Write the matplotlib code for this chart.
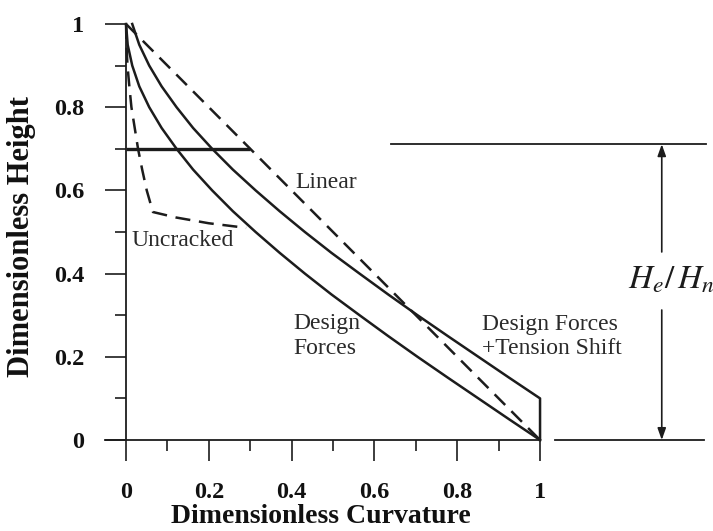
import matplotlib
matplotlib.use("Agg")
import matplotlib.pyplot as plt
from matplotlib.ticker import FixedLocator

plt.rcParams['font.family'] = ['Liberation Serif', 'DejaVu Serif']
plt.rcParams['mathtext.fontset'] = 'stix'

# ---- data ----
heights = [1.00, 0.95, 0.90, 0.85, 0.80, 0.75, 0.70, 0.65, 0.60, 0.55, 0.50,
           0.45, 0.40, 0.35, 0.30, 0.25, 0.20, 0.15, 0.10, 0.05, 0.00]
design_curv = [0.000, 0.004, 0.015, 0.032, 0.056, 0.086, 0.122, 0.162, 0.208, 0.258, 0.313,
               0.371, 0.432, 0.496, 0.564, 0.633, 0.704, 0.777, 0.851, 0.925, 1.000]
shift_heights = [1.00, 0.95, 0.90, 0.85, 0.80, 0.75, 0.70, 0.65, 0.60, 0.55, 0.50,
                 0.45, 0.40, 0.35, 0.30, 0.25, 0.20, 0.15, 0.10, 0.00]
shift_curv = [0.015, 0.032, 0.056, 0.086, 0.122, 0.162, 0.208, 0.258, 0.313, 0.371, 0.432,
              0.496, 0.564, 0.633, 0.704, 0.777, 0.851, 0.925, 1.000, 1.000]
linear_curv = [0.0, 1.0]
linear_heights = [1.0, 0.0]
uncracked_curv = [0.000, 0.001, 0.0035, 0.008, 0.013, 0.021, 0.029, 0.039, 0.050, 0.065,
                  0.120, 0.200, 0.290]
uncracked_heights = [1.00, 0.95, 0.90, 0.85, 0.80, 0.75, 0.70, 0.65, 0.60, 0.548,
                     0.535, 0.521, 0.510]
he_level = 0.70          # horizontal line inside the plot
he_curv = [0.0, 0.30]
ref_top = 0.711          # right-hand H_e/H_n dimension lines
xticks = [0, 0.2, 0.4, 0.6, 0.8, 1]
xticklabels = ['0', '0.2', '0.4', '0.6', '0.8', '1']
xminor = [0.1, 0.3, 0.5, 0.7, 0.9]
yticks = [0, 0.2, 0.4, 0.6, 0.8, 1]
yticklabels = ['0', '0.2', '0.4', '0.6', '0.8', '1']
yminor = [0.1, 0.3, 0.5, 0.7, 0.9]

ink = '#1c1c1c'

fig = plt.figure(figsize=(7.13, 5.31), dpi=100)
ax = fig.add_axes([0.1187, 0.1557, 0.8826, 0.8383])
ax.set_xlim(-0.1, 1.42)
ax.set_ylim(-0.02, 1.05)

lw = 1.8
ax.plot(design_curv, heights, color=ink, lw=lw)
ax.plot(shift_curv, shift_heights, color=ink, lw=lw)
ax.plot(linear_curv, linear_heights, color=ink, lw=lw, dashes=(6, 3.5))
ax.plot(uncracked_curv, uncracked_heights, color=ink, lw=lw, dashes=(6, 3.5))
ax.plot(he_curv, [he_level, he_level], color=ink, lw=2.4, solid_capstyle='butt')

# right-side dimension
ax.plot([0.64, 1.40], [ref_top, ref_top], color=ink, lw=1.3, clip_on=False)
ax.plot([1.036, 1.395], [0, 0], color=ink, lw=1.3, clip_on=False)
ax.annotate('', xy=(1.294, ref_top), xytext=(1.294, 0.452),
            arrowprops=dict(arrowstyle='-|>,head_length=0.7,head_width=0.25', color=ink, lw=1.2,
                            shrinkA=0, shrinkB=0))
ax.annotate('', xy=(1.294, 0.0), xytext=(1.294, 0.3125),
            arrowprops=dict(arrowstyle='-|>,head_length=0.7,head_width=0.25', color=ink, lw=1.2,
                            shrinkA=0, shrinkB=0))
ax.text(1.316, 0.383, r'$H_e/\,H_n$', fontsize=24, ha='center', va='center', color=ink)

# annotations
tfs = 17
tcol = '#2a2a2a'
ax.text(0.408, 0.62, 'Linear', fontsize=tfs, ha='left', va='center', color=tcol)
ax.text(0.012, 0.48, 'Uncracked', fontsize=tfs, ha='left', va='center', color=tcol)
ax.text(0.403, 0.25, 'Design\nForces', fontsize=tfs, ha='left', va='center',
        color=tcol, linespacing=1.2)
ax.text(0.86, 0.248, 'Design Forces\n+Tension Shift', fontsize=tfs, ha='left', va='center',
        color=tcol, linespacing=1.2)

# axes styling
for s in ['top', 'right']:
    ax.spines[s].set_visible(False)
ax.spines['left'].set_bounds(0, 1)
ax.spines['bottom'].set_bounds(-0.05, 1)
for s in ['left', 'bottom']:
    ax.spines[s].set_position(('data', 0))
    ax.spines[s].set_linewidth(1.3)
    ax.spines[s].set_color(ink)

ax.set_xticks(xticks)
ax.set_xticklabels(xticklabels)
ax.set_yticks(yticks)
ax.set_yticklabels(yticklabels)
ax.xaxis.set_minor_locator(FixedLocator(xminor))
ax.yaxis.set_minor_locator(FixedLocator(yminor))
ax.tick_params(which='major', direction='out', length=15, width=1.2, color=ink,
               labelsize=17.5, labelcolor='#111111')
ax.tick_params(which='minor', direction='out', length=8, width=1.2, color=ink)
ax.tick_params(axis='x', which='major', pad=15)
ax.tick_params(axis='y', which='major', pad=15)
for lab in ax.get_xticklabels() + ax.get_yticklabels():
    lab.set_fontweight('bold')

ax.text(0.47, -0.185, 'Dimensionless Curvature', fontsize=20, fontweight='bold',
        ha='center', va='center', color='#111111')
ax.text(-0.252, 0.49, 'Dimensionless Height', fontsize=22, fontweight='bold',
        ha='center', va='center', rotation=90, color='#111111')

fig.savefig('out.png', dpi=100)
